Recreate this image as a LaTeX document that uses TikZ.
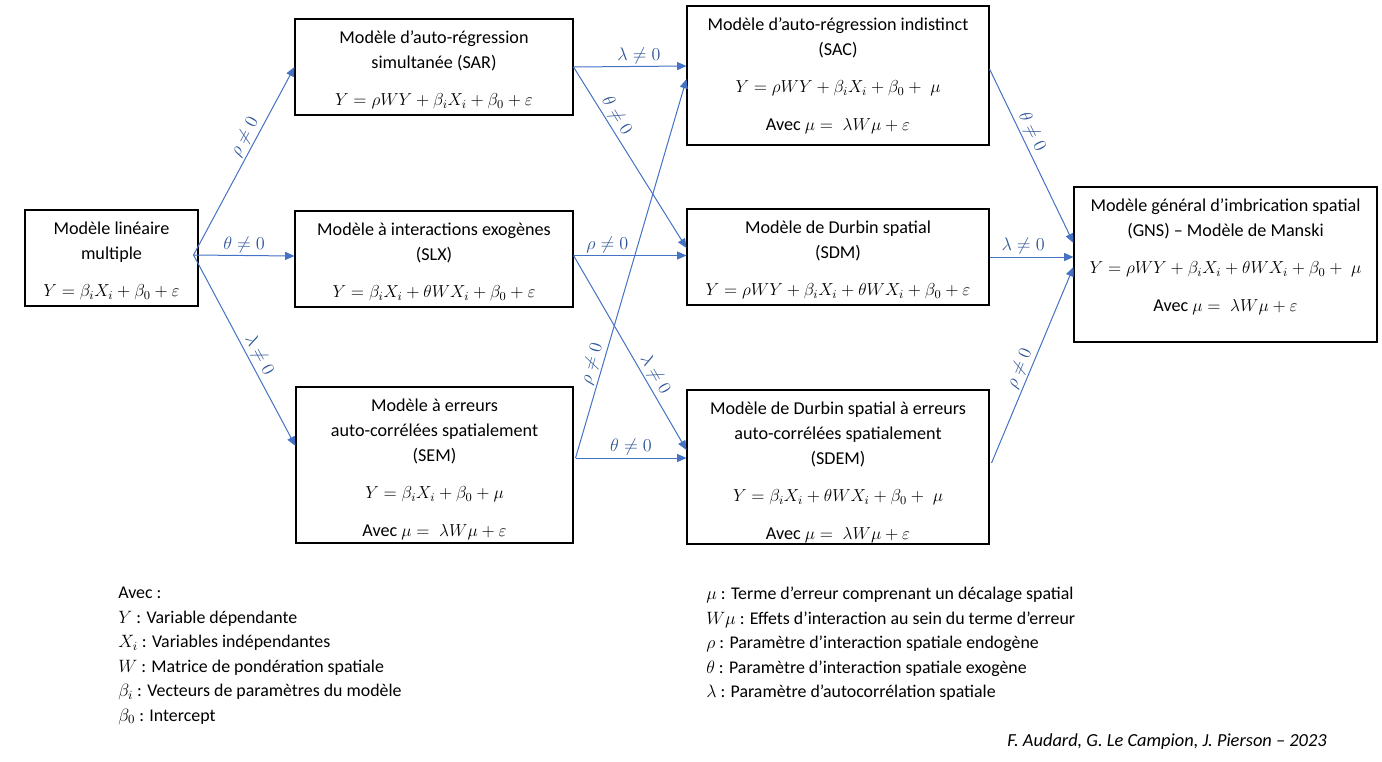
\RequirePackage{fix-cm}
\documentclass[tikz,border=0pt]{standalone}
\usepackage{fontspec}
\setmainfont{Carlito}
\usetikzlibrary{arrows.meta,calc}
\definecolor{arrowblue}{HTML}{4472C4}
\definecolor{labelblue}{HTML}{2F5597}
\newcommand{\mtext}[3]{\parbox[c][\dimexpr0.75pt*#2\relax][t]{\dimexpr0.75pt*#1\relax}{\centering\rule{0pt}{18pt}#3\par}}
\newcommand{\eqn}[1]{{\fontsize{13}{18.75}\selectfont$#1$}}
\begin{document}
\begin{tikzpicture}[x=0.75pt,y=-0.75pt,
  model/.style={draw=black, line width=0.8pt, inner sep=0pt,
    font=\fontsize{13.6}{18.75}\selectfont},
  conn/.style={draw=arrowblue, line width=0.75pt, -{Triangle[length=7pt,width=6pt]}},
  lab/.style={text=labelblue, font=\fontsize{13.6}{14}\selectfont, inner sep=1.5pt, sloped, above},
  legend/.style={align=left, inner sep=0pt, font=\fontsize{13.4}{18.35}\selectfont},
]
\useasboundingbox (0,0) rectangle (1382,761);

% boxes
\node[model] (lin) at (111.5,258)
  {\mtext{173}{96}{Modèle linéaire\\multiple\\[9.4pt]\eqn{Y=\beta_iX_i+\beta_0+\varepsilon}}};
\node[model] (sar) at (434,67)
  {\mtext{278}{96}{Modèle d’auto-régression\\simultanée (SAR)\\[9.4pt]\eqn{Y=\rho WY+\beta_iX_i+\beta_0+\varepsilon}}};
\node[model] (slx) at (434,259)
  {\mtext{278}{96}{Modèle à interactions exogènes\\(SLX)\\[9.4pt]\eqn{Y=\beta_iX_i+\theta WX_i+\beta_0+\varepsilon}}};
\node[model] (sem) at (434.5,465)
  {\mtext{277}{156}{Modèle à erreurs\\auto-corrélées spatialement\\(SEM)\\[9.4pt]\eqn{Y=\beta_iX_i+\beta_0+\mu}\\[9.4pt]Avec \eqn{\mu=\;\lambda W\mu+\varepsilon}}};
\node[model] (sac) at (838,75.5)
  {\mtext{302}{139}{Modèle d’auto-régression indistinct\\(SAC)\\[9.4pt]\eqn{Y=\rho WY+\beta_iX_i+\beta_0+\;\mu}\\[9.4pt]Avec \eqn{\mu=\;\lambda W\mu+\varepsilon}}};
\node[model] (sdm) at (838,257)
  {\mtext{302}{96}{Modèle de Durbin spatial\\(SDM)\\[9.4pt]\eqn{Y=\rho WY+\beta_iX_i+\theta WX_i+\beta_0+\varepsilon}}};
\node[model] (sdem) at (838,467)
  {\mtext{302}{154}{Modèle de Durbin spatial à erreurs\\auto-corrélées spatialement\\(SDEM)\\[9.4pt]\eqn{Y=\beta_iX_i+\theta WX_i+\beta_0+\;\mu}\\[9.4pt]Avec \eqn{\mu=\;\lambda W\mu+\varepsilon}}};
\node[model] (gns) at (1225.5,264.5)
  {\mtext{303}{155}{Modèle général d’imbrication spatial\\(GNS) – Modèle de Manski\\[9.4pt]\eqn{Y=\rho WY+\beta_iX_i+\theta WX_i+\beta_0+\;\mu}\\[9.4pt]Avec \eqn{\mu=\;\lambda W\mu+\varepsilon}}};

% connectors
\draw[conn] ($(lin.east)+(-5,-3)$) -- node[lab,pos=0.6]{$\rho\neq0$} (sar.west);
\draw[conn] ($(lin.east)+(-5,-3)$) -- node[lab,pos=0.5]{$\theta\neq0$} ($(slx.west)+(0,-3)$);
\draw[conn] ($(lin.east)+(-5,-3)$) -- node[lab,pos=0.55]{$\lambda\neq0$} ($(sem.west)+(0,-19)$);

\draw[conn] (sar.east) -- node[lab,pos=0.58]{$\lambda\neq0$} ($(sac.west)+(0,-9.5)$);
\draw[conn] (sar.east) -- node[lab,pos=0.3]{$\theta\neq0$} ($(sdm.west)+(0,-9)$);

\draw[conn] ($(slx.east)+(0,-3.5)$) -- node[lab,pos=0.3]{$\rho\neq0$} ($(sdm.west)+(0,-1.5)$);
\draw[conn] ($(slx.east)+(0,-3.5)$) -- node[lab,pos=0.64]{$\lambda\neq0$} ($(sdem.west)+(0,-17)$);

\draw[conn] ($(sem.east)+(2,-7)$) -- node[lab,pos=0.24]{$\rho\neq0$} ($(sac.west)+(0,3.5)$);
\draw[conn] ($(sem.east)+(2,-7)$) -- node[lab,pos=0.5]{$\theta\neq0$} ($(sdem.west)+(0,-9)$);

\draw[conn] ($(sac.east)+(0,-6.5)$) -- node[lab,pos=0.39]{$\theta\neq0$} ($(gns.west)+(0,-21.5)$);
\draw[conn] (sdm.east) -- node[lab,pos=0.4]{$\lambda\neq0$} ($(gns.west)+(0,-7.5)$);
\draw[conn] ($(sdem.east)+(2,-4)$) -- node[lab,pos=0.46]{$\rho\neq0$} ($(gns.west)+(0,2.5)$);

% legend
\node[legend, anchor=north west] (legL) at (118,587)
  {Avec :\\$Y$ : Variable dépendante\\$X_i$ : Variables indépendantes\\$W$ : Matrice de pondération spatiale\\$\beta_i$ : Vecteurs de paramètres du modèle\\$\beta_0$ : Intercept};
\node[legend, anchor=north west] (legR) at (706,587)
  {$\mu$ : Terme d’erreur comprenant un décalage spatial\\$W\mu$ : Effets d’interaction au sein du terme d’erreur\\$\rho$ : Paramètre d’interaction spatiale endogène\\$\theta$ : Paramètre d’interaction spatiale exogène\\$\lambda$ : Paramètre d’autocorrélation spatiale};
\node[font=\fontsize{13.8}{14}\selectfont\itshape, anchor=east, inner sep=0pt] (credit) at (1327,742)
  {F. Audard, G. Le Campion, J. Pierson – 2023};
\end{tikzpicture}
\end{document}
